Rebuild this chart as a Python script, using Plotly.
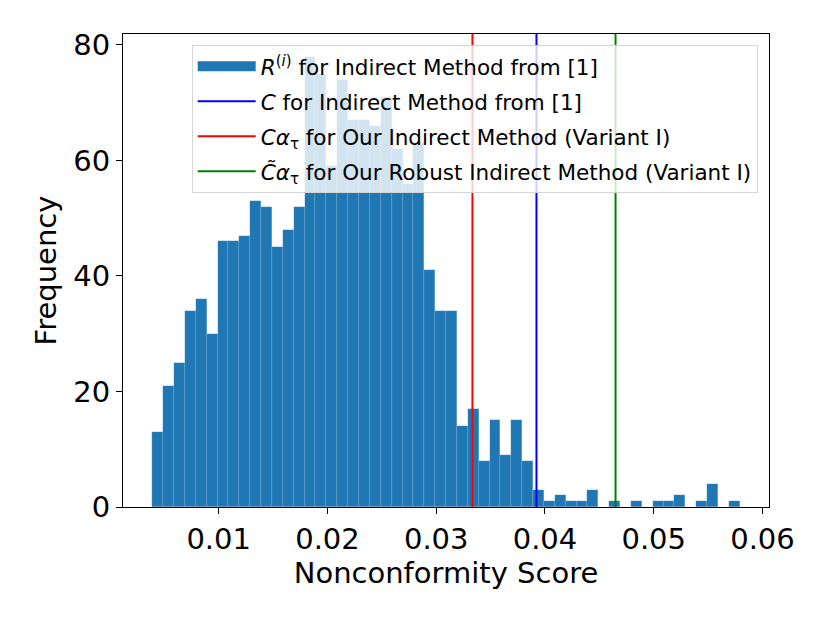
import numpy as np
import plotly.graph_objects as go

# histogram of nonconformity scores (counts)
bin_start = 0.0039
bin_width = 0.001
counts = [13, 21, 25, 34, 36, 30, 46, 46, 47, 53,
          52, 45, 48, 52, 78, 75, 59, 74, 67, 67,
          66, 71, 62, 56, 63, 41, 34, 34, 14, 17,
          8, 15, 9, 15, 8, 3, 1, 2, 1, 1,
          3, 0, 1, 0, 1, 0, 1, 1, 2, 0,
          1, 4, 0, 1]

# thresholds (vertical lines)
c_indirect = 0.03922
c_alpha = 0.03333
c_alpha_robust = 0.04649

x_ticks = [0.01, 0.02, 0.03, 0.04, 0.05, 0.06]
y_ticks = [0, 20, 40, 60, 80]

centers = bin_start + bin_width * (np.arange(len(counts)) + 0.5)
edge_lo = bin_start
edge_hi = bin_start + bin_width * len(counts)
pad = 0.05 * (edge_hi - edge_lo)
x_range = [edge_lo - pad, edge_hi + pad]
y_top = max(counts) * 1.05

FONT = "DejaVu Sans"
BLUE = "#1f77b4"

fig = go.Figure()

fig.add_trace(go.Bar(
    x=centers, y=counts, width=bin_width,
    marker=dict(color=BLUE, line=dict(color="rgba(255,255,255,0.25)", width=0.4)),
    showlegend=False, legendgroup="r",
))
# legend entry drawn as a wide patch, like matplotlib's
fig.add_trace(go.Scatter(
    x=[None], y=[None], mode="lines",
    line=dict(color=BLUE, width=15),
    name="<i>R</i><sup>(<i>i</i>)</sup> for Indirect Method from [1]",
    legendgroup="r",
))

lines = [
    (c_indirect, "blue", "<i>C</i> for Indirect Method from [1]"),
    (c_alpha, "red", "<i>Cα</i><sub>τ</sub> for Our Indirect Method (Variant I)"),
    (c_alpha_robust, "green", "<i>C\u0303α</i><sub>τ</sub> for Our Robust Indirect Method (Variant I)"),
]
for xv, col, label in lines:
    fig.add_trace(go.Scatter(
        x=[xv, xv], y=[0, y_top], mode="lines",
        line=dict(color=col, width=2), name=label, legendgroup=col,
    ))

axis_common = dict(
    showline=True, linecolor="black", linewidth=1, mirror=True,
    ticks="outside", ticklen=6, tickcolor="black", tickwidth=1,
    showgrid=False, zeroline=False,
    tickfont=dict(family=FONT, size=29, color="black"),
)

fig.update_xaxes(
    range=x_range, tickvals=x_ticks, tickformat=".2f",
    title=dict(text="Nonconformity Score", font=dict(family=FONT, size=29, color="black"), standoff=6),
    **axis_common,
)
fig.update_yaxes(
    range=[0, y_top], tickvals=y_ticks,
    title=dict(text="Frequency", font=dict(family=FONT, size=29, color="black"), standoff=8),
    **axis_common,
)

fig.update_layout(
    width=830, height=623,
    margin=dict(l=115, r=69, t=26, b=124),
    plot_bgcolor="white", paper_bgcolor="white",
    bargap=0,
    font=dict(family=FONT, color="black"),
    legend=dict(
        x=0.9825, y=0.977, xanchor="right", yanchor="top",
        bgcolor="rgba(255,255,255,0.8)", bordercolor="#d6d6d6", borderwidth=1,
        font=dict(family=FONT, size=21.5, color="black"),
        itemwidth=58, traceorder="grouped", tracegroupgap=4,
    ),
)

fig.write_html("out.html")
